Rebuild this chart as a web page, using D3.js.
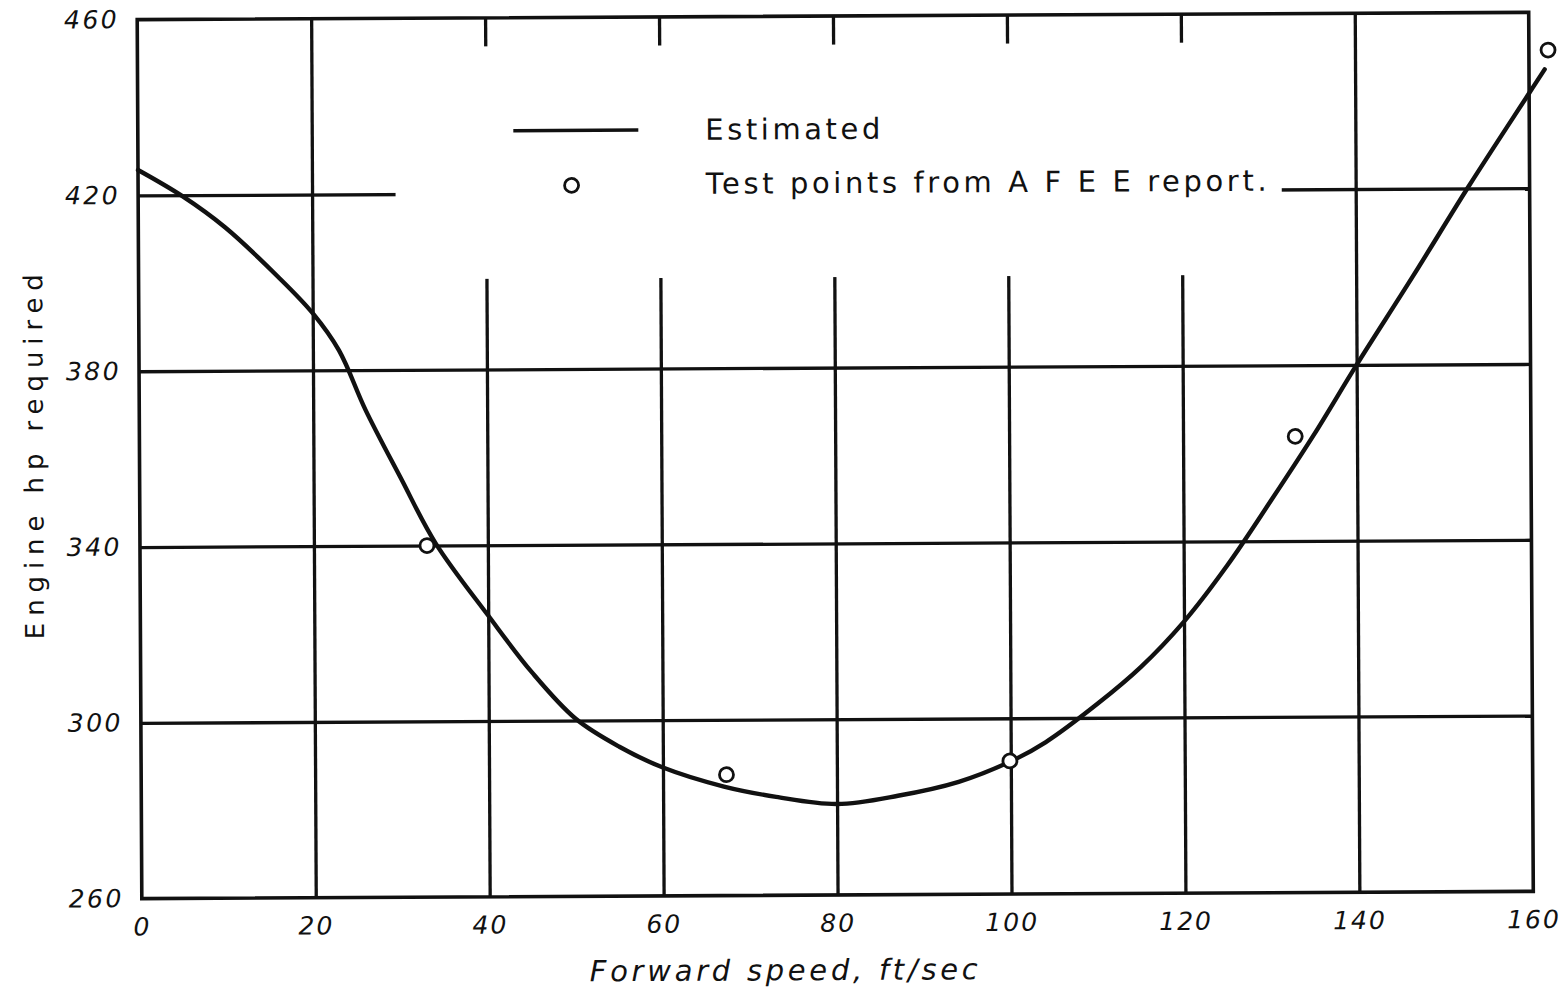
<!DOCTYPE html>
<html>
<head>
<meta charset="utf-8">
<script src="https://cdn.jsdelivr.net/npm/d3@7"></script>
<style>
  html, body { margin: 0; padding: 0; background: #fff; }
  svg { display: block; }
  text { font-family: "DejaVu Sans", "Open Sans", sans-serif; fill: #111; }
</style>
</head>
<body>
<svg id="chart" width="1564" height="990"></svg>
<script>
// Estimated engine power required vs forward speed
const estSpeed = [0, 5, 10, 16, 20, 23, 26, 30, 34, 40, 45, 50, 55, 60, 67, 73, 80, 87, 94, 100, 104, 110, 115, 120, 125, 130, 135, 140, 146.5, 153, 160, 161.8];
const estHp    = [425.8, 419.9, 412.6, 401.4, 393.0, 384.5, 371.0, 355.5, 340.5, 324.0, 311.0, 300.4, 294.0, 289.2, 284.8, 282.4, 280.7, 282.5, 285.6, 290.2, 294.5, 303.2, 311.5, 321.8, 334.5, 349.0, 364.0, 380.0, 400.0, 420.5, 441.6, 447.0];

// Flight test points
const testSpeed = [33, 67.3, 99.9, 132.9, 162.2];
const testHp    = [340.0, 287.5, 290.3, 363.8, 451.4];

// Axis ticks and labels
const xTicks = [0, 20, 40, 60, 80, 100, 120, 140, 160];
const yTicks = [260, 300, 340, 380, 420, 460];
const xTitle = "Forward speed, ft/sec";
const yTitle = "Engine hp required";
const legendLabels = ["Estimated", "Test points from A F E E report."];

const svg = d3.select("#chart");
const root = svg.append("g").attr("transform", "rotate(-0.3, 835, 455)");

const x = d3.scaleLinear().domain([0, 160]).range([139.5, 1531]);
const y = d3.scaleLinear().domain([260, 460]).range([895, 16]);

const ink = "#111";

// grid lines
const gx = root.append("g").attr("transform", `translate(0,${y(260)})`)
  .call(d3.axisBottom(x).tickValues(xTicks.slice(1, -1)).tickSize(-(y(260) - y(460))).tickFormat(""));
gx.select(".domain").remove();
gx.selectAll("line").attr("stroke", ink).attr("stroke-width", 3.3);

const gy = root.append("g").attr("transform", `translate(${x(0)},0)`)
  .call(d3.axisLeft(y).tickValues(yTicks.slice(1, -1)).tickSize(-(x(160) - x(0))).tickFormat(""));
gy.select(".domain").remove();
gy.selectAll("line").attr("stroke", ink).attr("stroke-width", 3.3);

// panel cleared for the legend
root.append("rect")
  .attr("x", x(29.6)).attr("y", y(453.5))
  .attr("width", x(131.5) - x(29.6)).attr("height", y(400.6) - y(453.5))
  .attr("fill", "#fff");

// frame
root.append("rect")
  .attr("x", x(0)).attr("y", y(460))
  .attr("width", x(160) - x(0)).attr("height", y(260) - y(460))
  .attr("fill", "none").attr("stroke", ink).attr("stroke-width", 3.6);

// tick labels
const ax = root.append("g").attr("transform", `translate(0,${y(260)})`)
  .call(d3.axisBottom(x).tickValues(xTicks).tickSize(0).tickPadding(19));
ax.select(".domain").remove();
ax.selectAll("text")
  .attr("font-family", null).attr("fill", ink)
  .style("font-size", "25px").style("font-style", "italic").style("letter-spacing", "2px");

const ay = root.append("g").attr("transform", `translate(${x(0)},0)`)
  .call(d3.axisLeft(y).tickValues(yTicks).tickSize(0).tickPadding(18));
ay.select(".domain").remove();
ay.selectAll("text")
  .attr("font-family", null).attr("fill", ink)
  .style("font-size", "25px").style("font-style", "italic").style("letter-spacing", "2.5px");

// axis titles
root.append("text")
  .attr("x", 587).attr("y", 980)
  .attr("textLength", 388).attr("lengthAdjust", "spacing")
  .style("font-size", "29px").style("font-style", "italic")
  .text(xTitle);

root.append("text")
  .attr("transform", "translate(43,635) rotate(-90)")
  .attr("x", 0).attr("y", 0)
  .attr("textLength", 365).attr("lengthAdjust", "spacing")
  .style("font-size", "26px")
  .text(yTitle);

// estimated curve
const line = d3.line()
  .x(d => x(d[0])).y(d => y(d[1]))
  .curve(d3.curveCatmullRom.alpha(0.5));
root.append("path")
  .datum(d3.zip(estSpeed, estHp))
  .attr("d", line)
  .attr("fill", "none").attr("stroke", ink).attr("stroke-width", 4.4)
  .attr("stroke-linejoin", "round").attr("stroke-linecap", "round");

// test points
root.append("g").selectAll("circle")
  .data(d3.zip(testSpeed, testHp))
  .join("circle")
  .attr("cx", d => x(d[0])).attr("cy", d => y(d[1]))
  .attr("r", 7).attr("fill", "#fff").attr("stroke", ink).attr("stroke-width", 2.8);

// legend
const lg = root.append("g");
lg.append("line")
  .attr("x1", 515).attr("x2", 640).attr("y1", 129).attr("y2", 129)
  .attr("stroke", ink).attr("stroke-width", 3.6);
lg.append("text")
  .attr("x", 707).attr("y", 139)
  .attr("textLength", 175).attr("lengthAdjust", "spacing")
  .style("font-size", "29px")
  .text(legendLabels[0]);
lg.append("circle")
  .attr("cx", 573).attr("cy", 184).attr("r", 7)
  .attr("fill", "#fff").attr("stroke", ink).attr("stroke-width", 2.8);
lg.append("text")
  .attr("x", 707).attr("y", 193)
  .attr("textLength", 561).attr("lengthAdjust", "spacing")
  .style("font-size", "29px")
  .text(legendLabels[1]);
</script>
</body>
</html>
